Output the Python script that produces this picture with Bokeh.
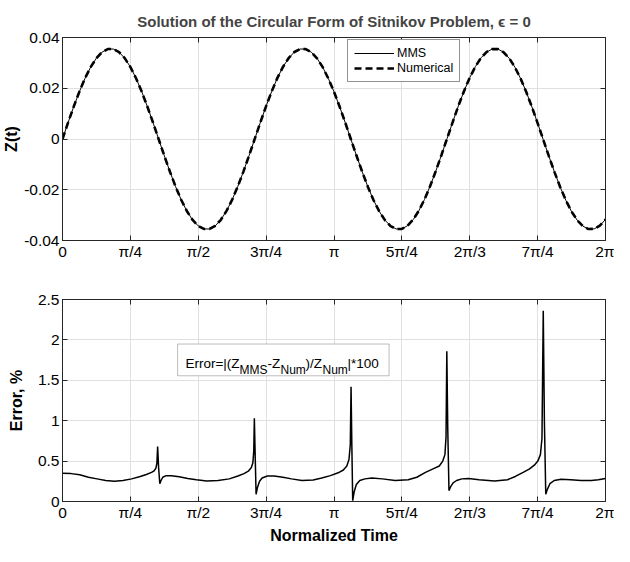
import numpy as np
from bokeh.plotting import figure
from bokeh.models import (Range1d, FixedTicker, LinearAxis, Legend, LegendItem,
                          BoxAnnotation, Label)
from bokeh.layouts import column
from bokeh.embed import file_html
from bokeh.resources import INLINE

FONT = "Liberation Sans"
AX = "#262626"

# ---------------- data ----------------
x_tick_labels = ["0", "π/4", "π/2", "3π/4", "π", "5π/4", "2π/3", "7π/4", "2π"]
z_ticks = [-0.04, -0.02, 0.0, 0.02, 0.04]
z_tick_labels = ["-0.04", "-0.02", "0", "0.02", "0.04"]
err_ticks = [0.0, 0.5, 1.0, 1.5, 2.0, 2.5]
err_tick_labels = ["0", "0.5", "1", "1.5", "2", "2.5"]

# Z(t) at 97 equally spaced times over [0, 2π]
z_mms = [0.0, 0.00654, 0.01287, 0.01875, 0.02399, 0.02842, 0.03188, 0.03425, 0.03545,
         0.03545, 0.03423, 0.03186, 0.02838, 0.02395, 0.01870, 0.01281, 0.00649, -0.00006,
         -0.00660, -0.01292, -0.01880, -0.02404, -0.02845, -0.03190, -0.03426, -0.03546,
         -0.03544, -0.03422, -0.03183, -0.02834, -0.02391, -0.01864, -0.01275, -0.00643,
         0.00012, 0.00666, 0.01298, 0.01885, 0.02409, 0.02849, 0.03193, 0.03428, 0.03546,
         0.03543, 0.03420, 0.03180, 0.02831, 0.02386, 0.01859, 0.01269, 0.00637, -0.00018,
         -0.00672, -0.01303, -0.01890, -0.02413, -0.02853, -0.03196, -0.03430, -0.03546,
         -0.03543, -0.03418, -0.03177, -0.02827, -0.02381, -0.01853, -0.01263, -0.00630,
         0.00024, 0.00678, 0.01309, 0.01895, 0.02418, 0.02856, 0.03199, 0.03431, 0.03547,
         0.03542, 0.03416, 0.03174, 0.02823, 0.02377, 0.01848, 0.01258, 0.00624, -0.00031,
         -0.00684, -0.01315, -0.01901, -0.02422, -0.02860, -0.03201, -0.03433, -0.03548,
         -0.03542, -0.03414, -0.03171]
z_num = list(z_mms)  # numerical solution coincides with MMS at this scale
t_z = np.linspace(0.0, 2 * np.pi, len(z_mms))

# Error, % (lower panel)
err_t = [0.0, 0.1, 0.2, 0.3, 0.4, 0.5, 0.6, 0.7, 0.8, 0.9, 0.97, 1.03, 1.06, 1.08, 1.092,
         1.101, 1.112, 1.126, 1.14, 1.16, 1.20, 1.26, 1.35, 1.45, 1.55, 1.67, 1.8, 1.93,
         2.03, 2.10, 2.15, 2.185, 2.203, 2.213, 2.220, 2.230, 2.240, 2.255, 2.28, 2.31,
         2.37, 2.45, 2.55, 2.65, 2.77, 2.9, 3.0, 3.1, 3.19, 3.25, 3.29, 3.315, 3.330,
         3.339, 3.348, 3.358, 3.375, 3.40, 3.44, 3.50, 3.58, 3.70, 3.85, 4.0, 4.1, 4.2,
         4.3, 4.36, 4.40, 4.425, 4.438, 4.447, 4.458, 4.472, 4.49, 4.52, 4.56, 4.62, 4.70,
         4.82, 5.0, 5.15, 5.24, 5.33, 5.40, 5.46, 5.50, 5.53, 5.548, 5.563, 5.576, 5.592,
         5.61, 5.64, 5.69, 5.77, 5.88, 6.0, 6.12, 6.2, 6.2832]
err_pct = [0.35, 0.345, 0.33, 0.30, 0.28, 0.26, 0.25, 0.26, 0.28, 0.31, 0.335, 0.36, 0.38,
           0.41, 0.47, 0.68, 0.42, 0.22, 0.26, 0.30, 0.32, 0.32, 0.305, 0.285, 0.27, 0.255,
           0.26, 0.28, 0.315, 0.345, 0.375, 0.42, 0.48, 0.62, 1.03, 0.55, 0.09, 0.17, 0.25,
           0.29, 0.315, 0.315, 0.30, 0.28, 0.26, 0.265, 0.29, 0.32, 0.355, 0.39, 0.44, 0.52,
           0.70, 1.42, 0.70, 0.01, 0.12, 0.21, 0.26, 0.28, 0.29, 0.28, 0.26, 0.27, 0.30,
           0.36, 0.41, 0.44, 0.50, 0.58, 0.80, 1.86, 0.90, 0.135, 0.18, 0.23, 0.26, 0.28,
           0.285, 0.27, 0.255, 0.27, 0.31, 0.36, 0.40, 0.45, 0.50, 0.58, 0.78, 2.36, 1.0,
           0.09, 0.15, 0.22, 0.26, 0.275, 0.27, 0.26, 0.26, 0.27, 0.285]

x_ticks = [k * np.pi / 4 for k in range(len(x_tick_labels))]


def style(p, yt, ylab):
    """Style the main axes and return (bottom_axis, left_axis)."""
    xb, yl = p.below[0], p.left[0]
    p.outline_line_color = AX
    p.outline_line_width = 1
    p.background_fill_color = "white"
    p.border_fill_color = "white"
    xb.ticker = FixedTicker(ticks=x_ticks)
    xb.major_label_overrides = {float(v): s for v, s in zip(x_ticks, x_tick_labels)}
    yl.ticker = FixedTicker(ticks=yt)
    yl.major_label_overrides = {float(v): s for v, s in zip(yt, ylab)}
    p.xgrid.ticker = FixedTicker(ticks=x_ticks)
    p.ygrid.ticker = FixedTicker(ticks=yt)
    for g in (p.xgrid, p.ygrid):
        g.grid_line_color = "#e0e0e0"
        g.grid_line_width = 1
    for ax in (xb, yl):
        ax.major_tick_in = 5
        ax.major_tick_out = 0
        ax.minor_tick_line_color = None
        ax.axis_line_color = AX
        ax.major_tick_line_color = AX
        ax.major_label_text_font = FONT
        ax.major_label_text_font_size = "15.5px"
        ax.major_label_text_color = "black"
        ax.major_label_standoff = 3
        ax.axis_label_text_font = FONT
        ax.axis_label_text_font_size = "16px"
        ax.axis_label_text_font_style = "bold"
        ax.axis_label_text_color = "black"
    xb.major_label_standoff = 2
    # box ticks on top and right, no labels
    top = LinearAxis(ticker=FixedTicker(ticks=x_ticks), major_tick_in=5, major_tick_out=0,
                     minor_tick_line_color=None, axis_line_color=AX, major_tick_line_color=AX,
                     major_label_text_font_size="0px", major_label_standoff=0,
                     major_label_overrides={float(v): "" for v in x_ticks})
    right = LinearAxis(ticker=FixedTicker(ticks=yt), major_tick_in=5, major_tick_out=0,
                       minor_tick_line_color=None, axis_line_color=AX, major_tick_line_color=AX,
                       major_label_text_font_size="0px", major_label_standoff=0,
                       major_label_overrides={float(v): "" for v in yt})
    p.add_layout(top, "above")
    p.add_layout(right, "right")
    return xb, yl


# ---------------- upper panel ----------------
p1 = figure(width=614, height=262, output_backend="svg", toolbar_location=None,
            x_range=Range1d(0, 2 * np.pi), y_range=Range1d(-0.04, 0.04),
            min_border_left=60, min_border_right=9, min_border_top=37, min_border_bottom=22)
p1.title.text = "Solution of the Circular Form of Sitnikov Problem, ϵ = 0"
p1.title.text_font = FONT
p1.title.text_font_size = "15px"
p1.title.text_font_style = "bold"
p1.title.align = "center"
p1.title.standoff = 16
xb1, yl1 = style(p1, z_ticks, z_tick_labels)
yl1.axis_label = "Z(t)"
yl1.axis_label_standoff = 1

r_mms = p1.line(t_z, z_mms, line_color="black", line_width=1)
r_num = p1.line(t_z, z_num, line_color="black", line_width=2.6, line_dash="7 4")

legend = Legend(items=[LegendItem(label="MMS", renderers=[r_mms]),
                       LegendItem(label="Numerical", renderers=[r_num])],
                location=(285, 158), orientation="vertical",
                label_text_font=FONT, label_text_font_size="12.5px",
                label_text_color="black", label_standoff=3, label_height=14,
                glyph_width=40, glyph_height=14, spacing=1, padding=6, margin=0,
                border_line_color=AX, border_line_width=1,
                background_fill_color="white", background_fill_alpha=1)
p1.add_layout(legend)

# ---------------- lower panel ----------------
p2 = figure(width=614, height=284, output_backend="svg", toolbar_location=None,
            x_range=Range1d(0, 2 * np.pi), y_range=Range1d(0, 2.5),
            min_border_left=60, min_border_right=9, min_border_top=37, min_border_bottom=44)
xb2, yl2 = style(p2, err_ticks, err_tick_labels)
yl2.axis_label = "Error, %"
yl2.axis_label_standoff = 10
xb2.axis_label = "Normalized Time"
xb2.axis_label_standoff = 3

p2.line(err_t, err_pct, line_color="black", line_width=1.5)

p2.add_layout(BoxAnnotation(left=1.332, right=3.779, bottom=1.556, top=1.949,
                            fill_color="white", fill_alpha=1,
                            line_color=AX, line_width=1))

MAIN, SUB = "13.5px", "12px"
pieces = [("Error=|(Z", 0, MAIN), ("MMS", 54, SUB), ("-Z", 82, MAIN), ("Num", 95, SUB),
          (")/Z", 120, MAIN), ("Num", 137, SUB), ("|*100", 162, MAIN)]
for txt, dx, fs in pieces:
    p2.add_layout(Label(x=1.4228, y=1.71 if fs == MAIN else 1.625, x_offset=dx, text=txt,
                        text_font=FONT, text_font_size=fs, text_color="black",
                        text_align="left", text_baseline="alphabetic"))

layout = column(p1, p2, spacing=0)
open("out.html", "w").write(file_html(layout, INLINE))
